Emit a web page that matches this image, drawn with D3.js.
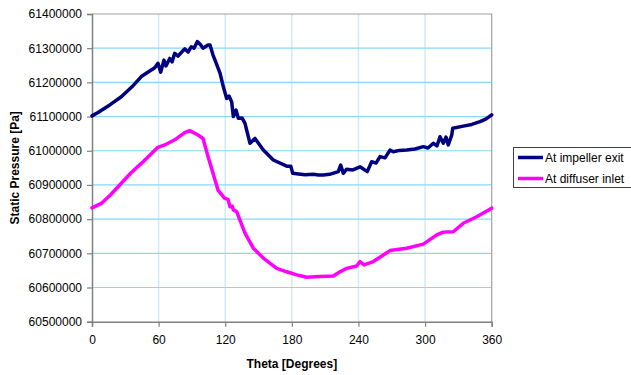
<!DOCTYPE html>
<html>
<head>
<meta charset="utf-8">
<script src="https://cdn.jsdelivr.net/npm/d3@7"></script>
<style>
  html, body { margin: 0; padding: 0; background: #fff; }
  svg { display: block; font-family: "Liberation Sans", Arial, sans-serif; }
</style>
</head>
<body>
<svg id="chart" width="631" height="375"></svg>
<script>
// Static pressure around the circumference, impeller exit vs. diffuser inlet
const thetaExit = [0, 5.4, 16, 26.4, 36, 44.4, 56.5, 59.4, 61.9, 64.8, 66.6, 70.0, 72.1, 74.5, 77.5, 83.5, 86.5, 89.4, 91.9, 94.8, 97.3, 100, 104.5, 106.3, 109, 110.8, 115.3, 118.3, 121.3, 123.4, 125.8, 127.3, 129.7, 131.8, 135.1, 137.8, 142.3, 146.8, 154.3, 163.3, 175.4, 179, 180.8, 186, 192, 199.3, 204, 208.3, 214, 221.8, 224, 226.3, 229.4, 235, 241.4, 247.9, 251.9, 255.8, 259.4, 263.9, 268.4, 271.4, 277, 283.4, 290.9, 298.4, 302.6, 307.4, 310.7, 313.4, 316.4, 318.8, 320.9, 324, 324.9, 334.4, 342, 349.5, 355, 360];
const pressureExit = [61102000, 61112000, 61134000, 61158000, 61187000, 61217000, 61243000, 61256000, 61230000, 61265000, 61248000, 61270000, 61260000, 61285000, 61277000, 61298000, 61289000, 61304000, 61300000, 61319000, 61312000, 61300000, 61309000, 61309000, 61280000, 61265000, 61227000, 61187000, 61153000, 61160000, 61143000, 61100000, 61119000, 61095000, 61096000, 61080000, 61022000, 61036000, 61002000, 60973000, 60955000, 60955000, 60934000, 60932000, 60930000, 60931000, 60929000, 60929000, 60931000, 60939000, 60958000, 60934000, 60946000, 60944000, 60953000, 60939000, 60968000, 60964000, 60983000, 60979000, 61002000, 60997000, 61001000, 61002000, 61005000, 61012000, 61008000, 61022000, 61014000, 61041000, 61022000, 61040000, 61017000, 61046000, 61066000, 61072000, 61077000, 61085000, 61093000, 61105000];

const thetaInlet = [0, 8.4, 17, 26.4, 35, 44.4, 59.4, 65.5, 74.5, 83.5, 88, 95.5, 100, 104.5, 113.5, 119.5, 122.5, 124.3, 126.2, 127.3, 130.3, 137.8, 145.3, 154.3, 166.4, 175.4, 184.4, 193.4, 205.4, 217.3, 223.4, 229.4, 238.4, 241.4, 245, 253.4, 262.4, 268.4, 283.4, 298.4, 310.5, 316.4, 325.4, 334.4, 346.5, 360];
const pressureInlet = [60833000, 60846000, 60872000, 60905000, 60935000, 60963000, 61010000, 61017000, 61032000, 61053000, 61059000, 61046000, 61036000, 60983000, 60885000, 60861000, 60858000, 60836000, 60838000, 60827000, 60822000, 60759000, 60715000, 60686000, 60656000, 60646000, 60637000, 60630000, 60632000, 60634000, 60646000, 60656000, 60663000, 60676000, 60666000, 60676000, 60695000, 60708000, 60715000, 60727000, 60754000, 60762000, 60763000, 60788000, 60807000, 60832000];

const seriesNames = ["At impeller exit", "At diffuser inlet"];
const seriesColors = ["#000080", "#ff00ff"];
const xTicks = [0, 60, 120, 180, 240, 300, 360];
const yTicks = [60500000, 60600000, 60700000, 60800000, 60900000, 61000000, 61100000, 61200000, 61300000, 61400000];

const svg = d3.select("#chart");
const plotLeft = 92, plotRight = 491.7, plotTop = 14, plotBottom = 321.7;

const x = d3.scaleLinear().domain([0, 360]).range([plotLeft, plotRight]);
const y = d3.scaleLinear().domain([60500000, 61400000]).range([plotBottom, plotTop]);

// gridlines
svg.append("g").selectAll("line").data(xTicks.slice(1, -1)).join("line")
  .attr("x1", d => x(d)).attr("x2", d => x(d))
  .attr("y1", plotTop).attr("y2", plotBottom)
  .attr("stroke", "#d4e8fa").attr("stroke-width", 1.5);
svg.append("g").selectAll("line").data(yTicks.slice(1, -1)).join("line")
  .attr("x1", plotLeft).attr("x2", plotRight)
  .attr("y1", d => y(d)).attr("y2", d => y(d))
  .attr("stroke", "#88d8f4").attr("stroke-width", 1.2);

// plot frame (top and right)
svg.append("path")
  .attr("d", `M${plotLeft},${plotTop}H${plotRight}V${plotBottom}`)
  .attr("fill", "none").attr("stroke", "#a0a0a0").attr("stroke-width", 1.2);

// axes
const xAxis = d3.axisBottom(x).tickValues(xTicks).tickSize(5).tickPadding(9).tickFormat(d3.format("d"));
const yAxis = d3.axisLeft(y).tickValues(yTicks).tickSize(5).tickPadding(5).tickFormat(d3.format("d"));

const gx = svg.append("g").attr("transform", `translate(0,${plotBottom})`).call(xAxis);
const gy = svg.append("g").attr("transform", `translate(${plotLeft},0)`).call(yAxis);
[gx, gy].forEach(g => {
  g.select(".domain").attr("stroke", "#808080").attr("stroke-width", 1.5);
  g.selectAll(".tick line").attr("stroke", "#808080").attr("stroke-width", 1.2);
  g.selectAll(".tick text").attr("fill", "#000").style("font-size", "12px")
    .style("font-family", "'Liberation Sans', Arial, sans-serif");
});

// series lines
const line = d3.line().x(d => x(d[0])).y(d => y(d[1]));
const series = [
  d3.zip(thetaExit, pressureExit),
  d3.zip(thetaInlet, pressureInlet)
];
svg.append("g").selectAll("path").data(series).join("path")
  .attr("d", line)
  .attr("fill", "none")
  .attr("stroke", (d, i) => seriesColors[i])
  .attr("stroke-width", 3.5)
  .attr("stroke-linejoin", "round")
  .attr("stroke-linecap", "round");

// axis titles
svg.append("text")
  .attr("x", (plotLeft + plotRight) / 2).attr("y", 368)
  .attr("text-anchor", "middle")
  .style("font-size", "12px").style("font-weight", "bold")
  .text("Theta [Degrees]");
svg.append("text")
  .attr("transform", `translate(19,${(plotTop + plotBottom) / 2}) rotate(-90)`)
  .attr("text-anchor", "middle")
  .style("font-size", "12px").style("font-weight", "bold")
  .text("Static Pressure [Pa]");

// legend
const legend = svg.append("g");
legend.append("rect")
  .attr("x", 513.5).attr("y", 147.5).attr("width", 125).attr("height", 40)
  .attr("fill", "#fff").attr("stroke", "#404040").attr("stroke-width", 1);
seriesNames.forEach((name, i) => {
  const ly = 157.5 + i * 21;
  legend.append("line")
    .attr("x1", 518).attr("x2", 543).attr("y1", ly).attr("y2", ly)
    .attr("stroke", seriesColors[i]).attr("stroke-width", 3.5);
  legend.append("text")
    .attr("x", 545).attr("y", ly + 4.5)
    .style("font-size", "12px")
    .text(name);
});
</script>
</body>
</html>
